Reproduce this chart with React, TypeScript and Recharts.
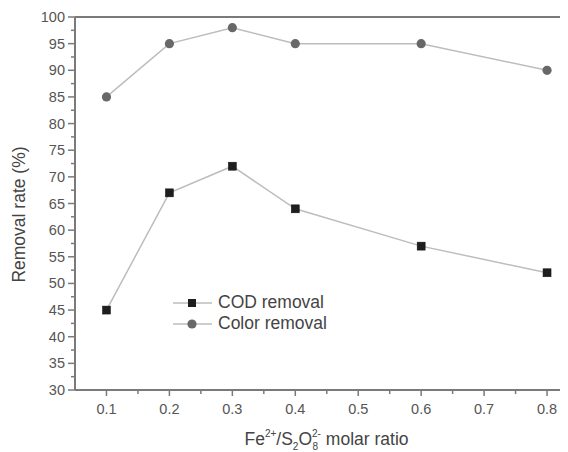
import React from 'react';
import { LineChart, Line, XAxis, YAxis, ReferenceLine } from 'recharts';

const ratios = [0.1, 0.2, 0.3, 0.4, 0.6, 0.8];
const codRemoval = [45, 67, 72, 64, 57, 52];
const colorRemoval = [85, 95, 98, 95, 95, 90];
const xTicks = [0.1, 0.15, 0.2, 0.25, 0.3, 0.35, 0.4, 0.45, 0.5, 0.55, 0.6, 0.65, 0.7, 0.75, 0.8];
const yTicks = [30, 32.5, 35, 37.5, 40, 42.5, 45, 47.5, 50, 52.5, 55, 57.5, 60, 62.5, 65, 67.5, 70, 72.5, 75, 77.5, 80, 82.5, 85, 87.5, 90, 92.5, 95, 97.5, 100];
const seriesNames = ['COD removal', 'Color removal'];

const data = ratios.map((r, i) => ({ ratio: r, cod: codRemoval[i], color: colorRemoval[i] }));

const FONT = 'Arial, "Liberation Sans", Helvetica, sans-serif';
const AXIS = '#7a7a7a';

const XTick = (props: any) => {
  const { x, y, payload } = props;
  const v = payload.value;
  const major = Math.abs(v * 10 - Math.round(v * 10)) < 1e-6;
  return (
    <g>
      <line x1={x} x2={x} y1={y} y2={y + (major ? 6 : 4)} stroke={AXIS} strokeWidth={1.5} />
      {major && (
        <text x={x} y={y + 24} textAnchor="middle" fontSize={14.5} fill="#555" fontFamily={FONT}>
          {v.toFixed(1)}
        </text>
      )}
    </g>
  );
};

const YTick = (props: any) => {
  const { x, y, payload } = props;
  const v = payload.value;
  const major = Math.abs(v % 5) < 1e-6;
  return (
    <g>
      <line x1={x - (major ? 7 : 4)} x2={x} y1={y} y2={y} stroke={AXIS} strokeWidth={1.5} />
      {major && (
        <text x={x - 10} y={y + 5} textAnchor="end" fontSize={14.5} fill="#555" fontFamily={FONT}>
          {v}
        </text>
      )}
    </g>
  );
};

const SquareDot = (props: any) => {
  const { cx, cy } = props;
  if (cx == null || cy == null) return null;
  return <rect x={cx - 4} y={cy - 4} width={8} height={8} fill="#1e1e1e" stroke="#111" strokeWidth={0.5} />;
};

const CircleDot = (props: any) => {
  const { cx, cy } = props;
  if (cx == null || cy == null) return null;
  return <circle cx={cx} cy={cy} r={4.6} fill="#686868" />;
};

const XLabel = (props: any) => {
  const vb = props.viewBox || {};
  const cx = vb.x + vb.width / 2 + 5;
  const y = vb.y + 55;
  return (
    <text x={cx} y={y} textAnchor="middle" fontSize={17.5} fill="#444" fontFamily={FONT}>
      <tspan>Fe</tspan>
      <tspan fontSize={10} dy={-8}>2+</tspan>
      <tspan dy={8}>/S</tspan>
      <tspan fontSize={10} dy={5}>2</tspan>
      <tspan dy={-5}>O</tspan>
      <tspan fontSize={10} dy={-8}>2-</tspan>
      <tspan fontSize={10} dx={-8.5} dy={13}>8</tspan>
      <tspan dy={-5} dx={3}> molar ratio</tspan>
    </text>
  );
};

const YLabel = (props: any) => {
  const vb = props.viewBox || {};
  const x = 17;
  const cy = vb.y + vb.height / 2 + 11;
  return (
    <text x={x} y={cy} transform={`rotate(-90 ${x} ${cy})`} textAnchor="middle" fontSize={17.5} fill="#444" fontFamily={FONT}>
      Removal rate (%)
    </text>
  );
};

const LegendBox = () => (
  <div style={{ position: 'absolute', left: 165, top: 284, fontFamily: FONT, fontSize: 17.5, color: '#444', lineHeight: '21px' }}>
    <div style={{ display: 'flex', alignItems: 'center', height: 21 }}>
      <svg width={45} height={21}>
        <line x1={0} x2={39} y1={11} y2={11} stroke="#bdbdbd" strokeWidth={1.5} />
        <rect x={15} y={7} width={8} height={8} fill="#1e1e1e" />
      </svg>
      <span>{seriesNames[0]}</span>
    </div>
    <div style={{ display: 'flex', alignItems: 'center', height: 21 }}>
      <svg width={45} height={21}>
        <line x1={0} x2={39} y1={11} y2={11} stroke="#bdbdbd" strokeWidth={1.5} />
        <circle cx={19} cy={11} r={4.6} fill="#686868" />
      </svg>
      <span>{seriesNames[1]}</span>
    </div>
  </div>
);

export default function App() {
  return (
    <div style={{ width: 560, height: 444, position: 'relative', overflow: 'hidden' }}>
      <LineChart width={560} height={444} data={data} margin={{ top: 9, right: 0, bottom: 0, left: 0 }}>
        <XAxis
          dataKey="ratio"
          type="number"
          domain={[0.05, 0.8333]}
          ticks={xTicks}
          interval={0}
          tick={<XTick />}
          tickLine={false}
          tickSize={0}
          tickMargin={0}
          height={62}
          axisLine={{ stroke: AXIS, strokeWidth: 2 }}
          allowDataOverflow
          label={<XLabel />}
        />
        <YAxis
          type="number"
          domain={[30, 100]}
          ticks={yTicks}
          interval={0}
          tick={<YTick />}
          tickLine={false}
          tickSize={0}
          tickMargin={0}
          width={67}
          axisLine={{ stroke: AXIS, strokeWidth: 2 }}
          label={<YLabel />}
        />
        <ReferenceLine y={100} stroke={AXIS} strokeWidth={2} ifOverflow="visible" />
        <Line dataKey="cod" name={seriesNames[0]} stroke="#bdbdbd" strokeWidth={1.5} dot={<SquareDot />} isAnimationActive={false} />
        <Line dataKey="color" name={seriesNames[1]} stroke="#bdbdbd" strokeWidth={1.5} dot={<CircleDot />} isAnimationActive={false} />
      </LineChart>
      <LegendBox />
    </div>
  );
}
